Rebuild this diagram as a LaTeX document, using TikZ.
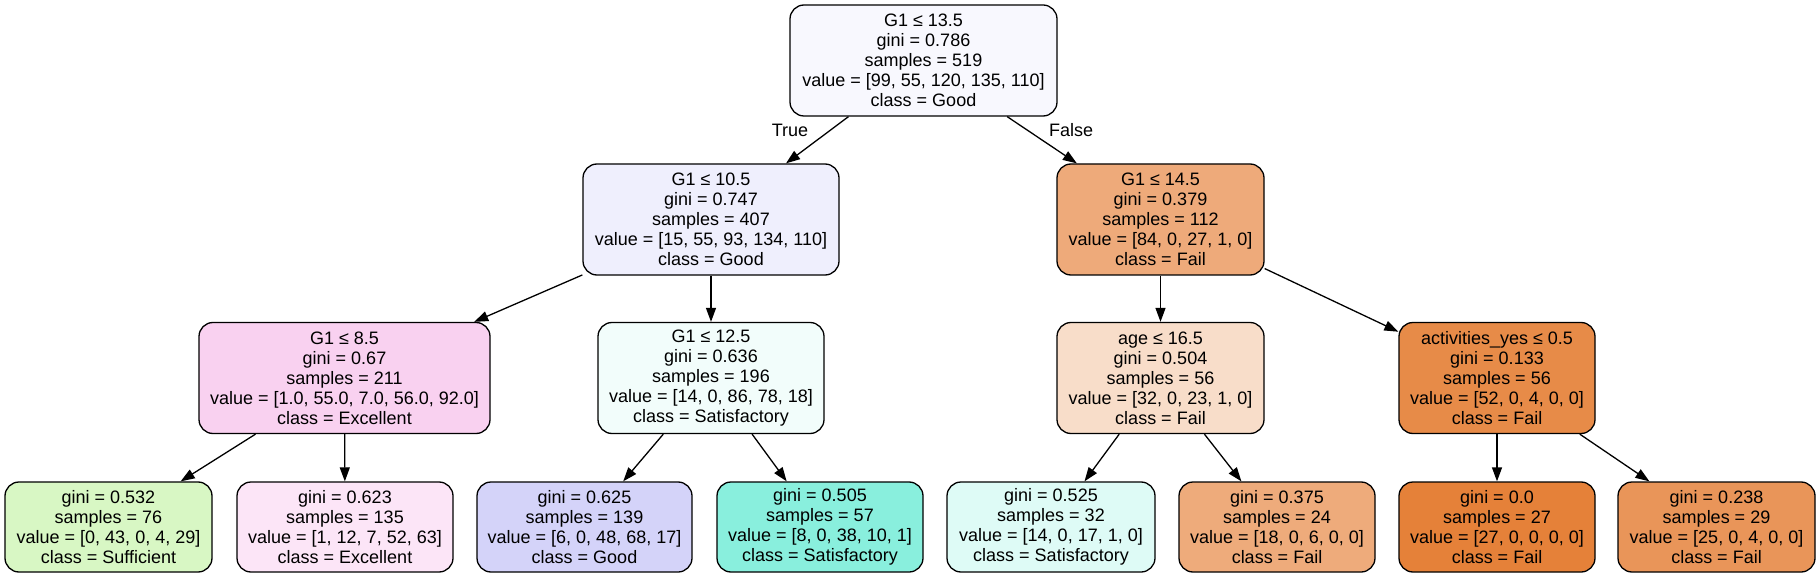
\documentclass[tikz,border=0pt]{standalone}
\usepackage{fontspec}
\setmainfont{Liberation Sans}
\usetikzlibrary{arrows.meta, positioning}
\definecolor{rootblue}{HTML}{F8F8FE}
\definecolor{goodlight}{HTML}{EFEFFD}
\definecolor{failmid}{HTML}{EEAA7A}
\definecolor{excelmid}{HTML}{F9D1F0}
\definecolor{satislight}{HTML}{F2FDFB}
\definecolor{faillight}{HTML}{F8DDC9}
\definecolor{failstrong}{HTML}{E78B48}
\definecolor{suffleaf}{HTML}{D8F7C4}
\definecolor{excelleaf}{HTML}{FCE5F7}
\definecolor{goodleaf}{HTML}{D4D3F9}
\definecolor{satisleaf}{HTML}{89EFDD}
\definecolor{satispale}{HTML}{DEFBF6}
\definecolor{failleaf}{HTML}{EEAB7B}
\definecolor{failfull}{HTML}{E58139}
\definecolor{failhigh}{HTML}{E99559}

\begin{document}
\begin{tikzpicture}[x=1pt, y=-1pt,
  font=\fontsize{18}{20}\selectfont,
  >={Triangle[length=14pt, width=10pt]},
  treebox/.style={rectangle, rounded corners=14pt, draw=black, line width=1.3pt, align=center, inner sep=0pt},
  splitbox/.style={treebox, minimum height=111pt},
  leafbox/.style={treebox, minimum height=90pt}]
\useasboundingbox (0,0) rectangle (1820,577);

% Root
\node[splitbox, fill=rootblue, minimum width=267pt] (node0) at (923.5,60.5) {G1 ≤ 13.5\\gini = 0.786\\samples = 519\\value = [99, 55, 120, 135, 110]\\class = Good};

% Depth 1
\node[splitbox, fill=goodlight, minimum width=256pt] (node1) at (711,219.5) {G1 ≤ 10.5\\gini = 0.747\\samples = 407\\value = [15, 55, 93, 134, 110]\\class = Good};
\node[splitbox, fill=failmid, minimum width=207pt] (node8) at (1160.5,219.5) {G1 ≤ 14.5\\gini = 0.379\\samples = 112\\value = [84, 0, 27, 1, 0]\\class = Fail};

% Depth 2
\node[splitbox, fill=excelmid, minimum width=291pt] (node2) at (344.5,378) {G1 ≤ 8.5\\gini = 0.67\\samples = 211\\value = [1.0, 55.0, 7.0, 56.0, 92.0]\\class = Excellent};
\node[splitbox, fill=satislight, minimum width=226pt] (node5) at (711,378) {G1 ≤ 12.5\\gini = 0.636\\samples = 196\\value = [14, 0, 86, 78, 18]\\class = Satisfactory};
\node[splitbox, fill=faillight, minimum width=207pt] (node9) at (1160.5,378) {age ≤ 16.5\\gini = 0.504\\samples = 56\\value = [32, 0, 23, 1, 0]\\class = Fail};
\node[splitbox, fill=failstrong, minimum width=196pt] (node12) at (1497,378) {activities\_yes ≤ 0.5\\gini = 0.133\\samples = 56\\value = [52, 0, 4, 0, 0]\\class = Fail};

% Leaves
\node[leafbox, fill=suffleaf, minimum width=207pt] (node3) at (108.5,527) {gini = 0.532\\samples = 76\\value = [0, 43, 0, 4, 29]\\class = Sufficient};
\node[leafbox, fill=excelleaf, minimum width=216pt] (node4) at (345,527) {gini = 0.623\\samples = 135\\value = [1, 12, 7, 52, 63]\\class = Excellent};
\node[leafbox, fill=goodleaf, minimum width=215pt] (node6) at (584.5,527) {gini = 0.625\\samples = 139\\value = [6, 0, 48, 68, 17]\\class = Good};
\node[leafbox, fill=satisleaf, minimum width=206pt] (node7) at (820,527) {gini = 0.505\\samples = 57\\value = [8, 0, 38, 10, 1]\\class = Satisfactory};
\node[leafbox, fill=satispale, minimum width=208pt] (node10) at (1051,527) {gini = 0.525\\samples = 32\\value = [14, 0, 17, 1, 0]\\class = Satisfactory};
\node[leafbox, fill=failleaf, minimum width=196pt] (node11) at (1277,527) {gini = 0.375\\samples = 24\\value = [18, 0, 6, 0, 0]\\class = Fail};
\node[leafbox, fill=failfull, minimum width=196pt] (node13) at (1497,527) {gini = 0.0\\samples = 27\\value = [27, 0, 0, 0, 0]\\class = Fail};
\node[leafbox, fill=failhigh, minimum width=197pt] (node14) at (1716.5,527) {gini = 0.238\\samples = 29\\value = [25, 0, 4, 0, 0]\\class = Fail};

% Branch labels
\node (lbltrue) at (790,130) {True};
\node (lblfalse) at (1071,130) {False};

% Edges
\draw[->, line width=1.3pt] (node0) -- (node1);
\draw[->, line width=1.3pt] (node0) -- (node8);
\draw[->, line width=1.3pt] (node1) -- (node2);
\draw[->, line width=1.3pt] (node1) -- (node5);
\draw[->, line width=1.3pt] (node2) -- (node3);
\draw[->, line width=1.3pt] (node2) -- (node4);
\draw[->, line width=1.3pt] (node5) -- (node6);
\draw[->, line width=1.3pt] (node5) -- (node7);
\draw[->, line width=1.3pt] (node8) -- (node9);
\draw[->, line width=1.3pt] (node8) -- (node12);
\draw[->, line width=1.3pt] (node9) -- (node10);
\draw[->, line width=1.3pt] (node9) -- (node11);
\draw[->, line width=1.3pt] (node12) -- (node13);
\draw[->, line width=1.3pt] (node12) -- (node14);
\end{tikzpicture}
\end{document}
